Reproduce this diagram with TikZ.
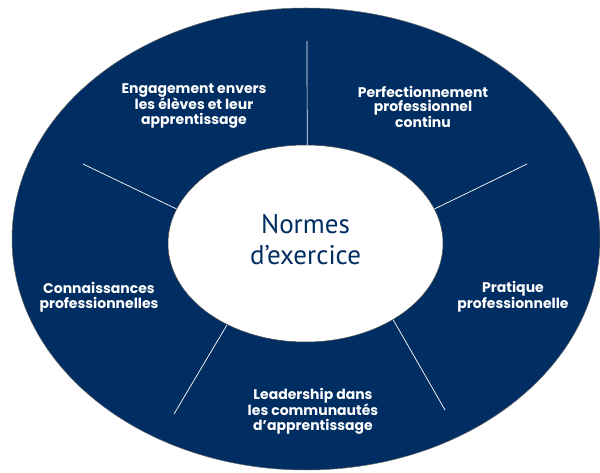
\documentclass[tikz,border=0pt]{standalone}
\usepackage{fontspec}
\setmainfont{PT Sans}
\newfontfamily\labelfont{Poppins}
\usetikzlibrary{shapes.geometric}
\definecolor{navy}{RGB}{0,45,98}
\tikzset{sector/.style={text=white, align=center, font=\labelfont\bfseries\fontsize{14}{14.8}\selectfont},
  divider/.style={draw=white, line width=0.7pt}}

\begin{document}
\begin{tikzpicture}[x=1pt,y=-1pt]
\useasboundingbox (0,0) rectangle (600,473);
\filldraw[fill=navy, draw=black!60, line width=0.5pt] (306,239) ellipse [x radius=294pt, y radius=231pt];
\node[ellipse, fill=white, draw=black!70, line width=0.5pt, minimum width=275pt, minimum height=197pt, inner sep=0pt,
  text=navy, align=center, text depth=8pt, font=\fontsize{27}{31}\selectfont] (core) at (305.5,243.5) {Normes\\d’exercice};

\coordinate (t1) at (307,41);
\coordinate (t2) at (527,164);
\coordinate (t3) at (445,410);
\coordinate (t4) at (174,414);
\coordinate (t5) at (83,164);

\draw[divider]
(t1) -- (core.89)
(t2) -- (core.15)
(t3) -- (core.-41)
(t4) -- (core.226)
(t5) -- (core.165);

\node[sector] (engage) at (194,106) {Engagement envers\\les élèves et leur\\apprentissage};
\node[sector] (perfect) at (423,107) {Perfectionnement\\professionnel\\continu};
\node[sector] (savoir) at (99,297) {Connaissances\\professionnelles};
\node[sector] (pratique) at (513,297) {Pratique\\professionnelle};
\node[sector] (leader) at (313,411) {Leadership dans\\les communautés\\d’apprentissage};
\end{tikzpicture}
\end{document}
